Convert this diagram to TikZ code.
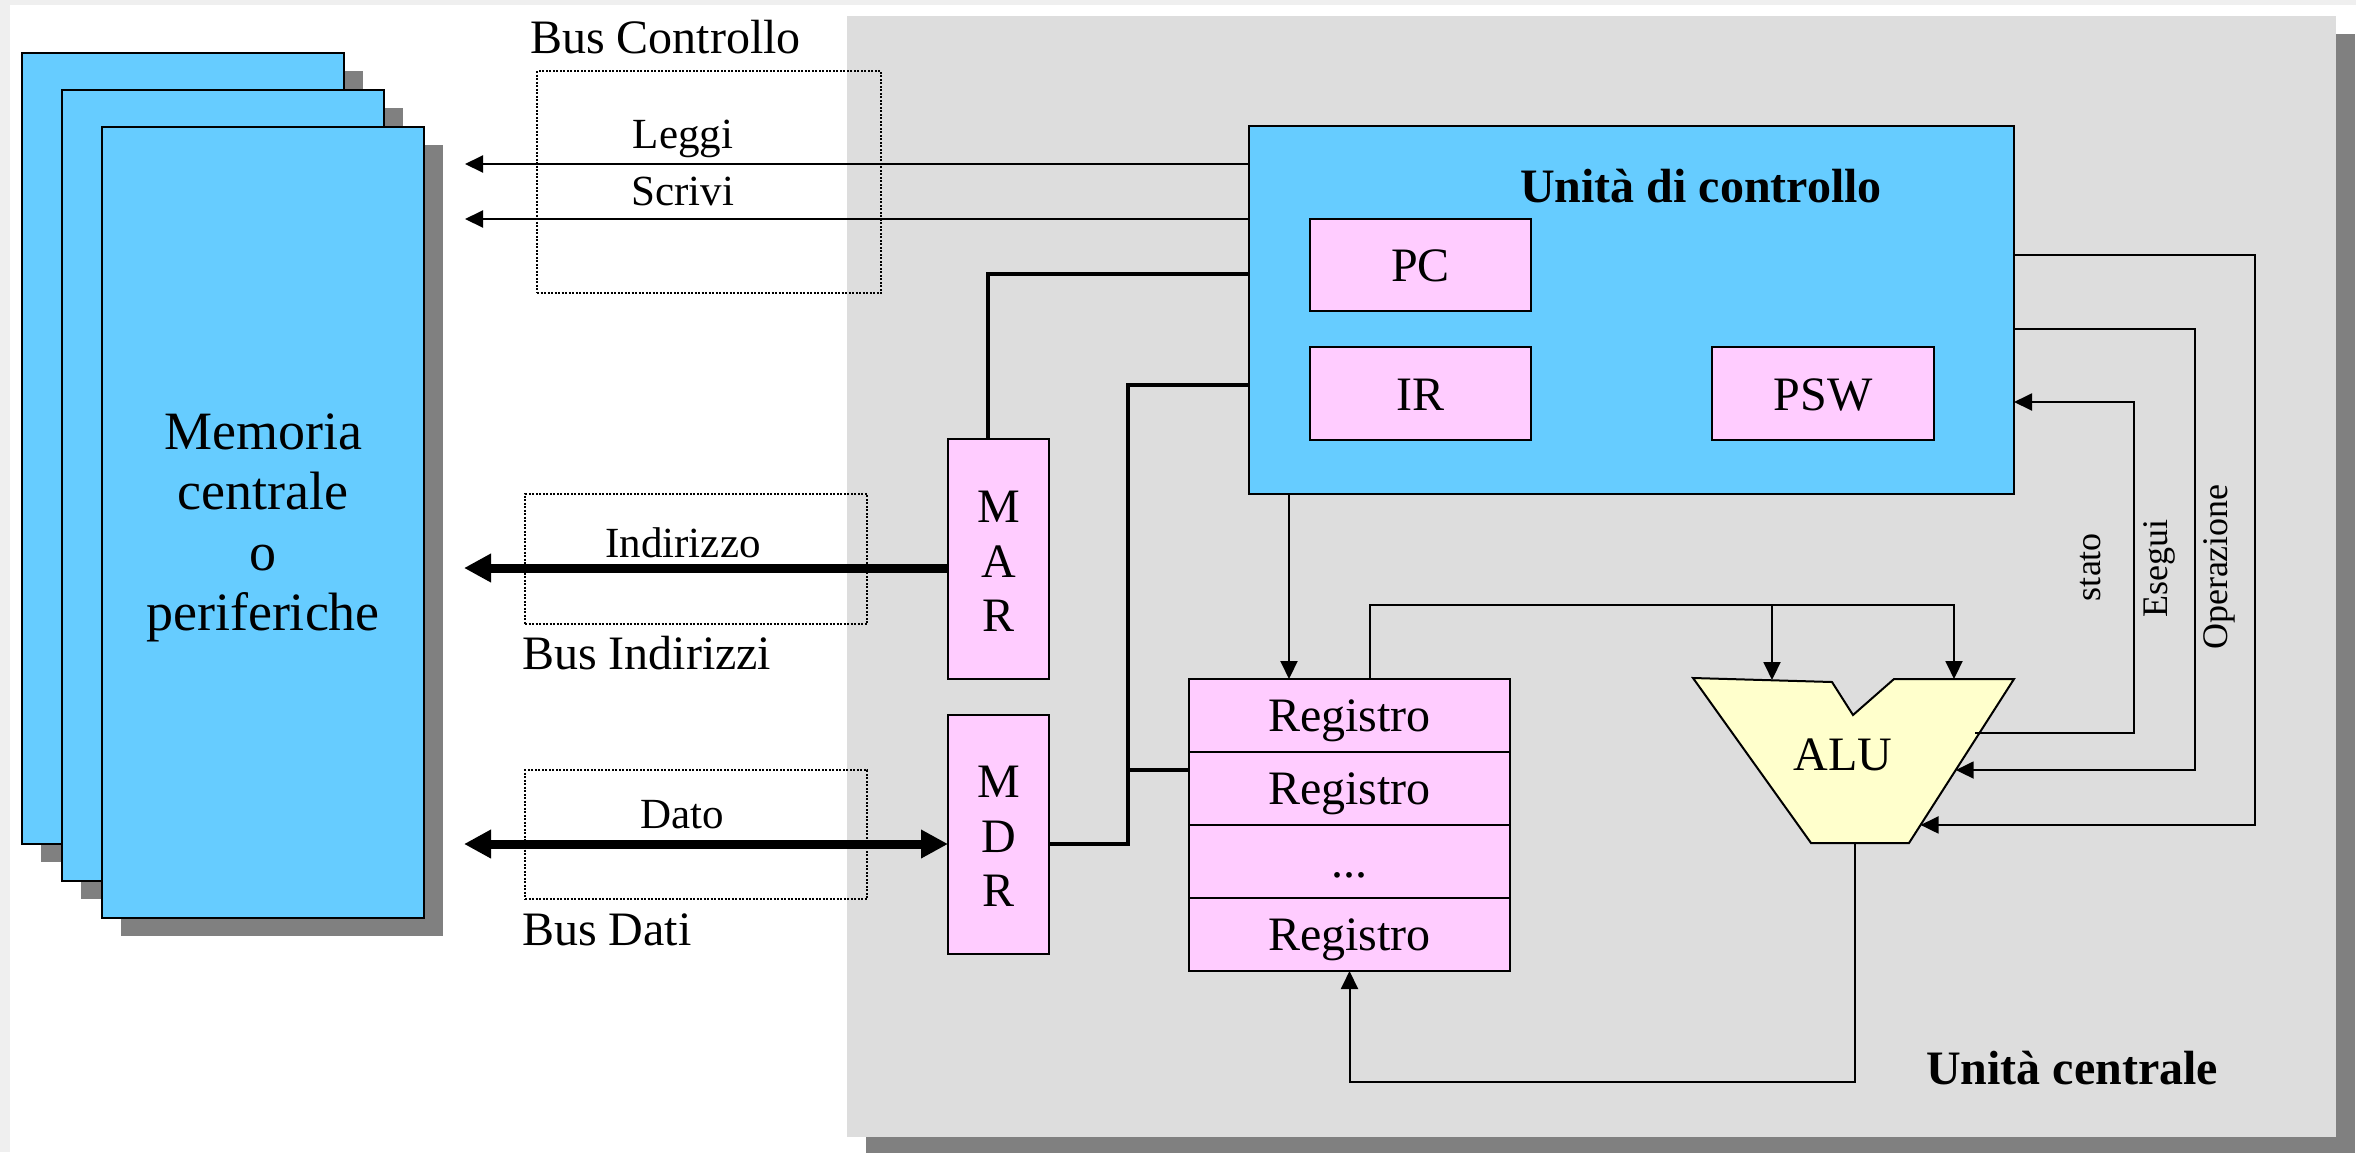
\documentclass[tikz,border=0pt]{standalone}
\usepackage{fontspec}
\setmainfont{Liberation Serif}
\usetikzlibrary{arrows.meta,shadows,calc}
\definecolor{panelgray}{HTML}{DDDDDD}
\definecolor{shadowgray}{HTML}{808080}
\definecolor{unitblue}{HTML}{66CCFF}
\definecolor{regpink}{HTML}{FFCCFF}
\definecolor{aluyellow}{HTML}{FFFFCC}
\definecolor{pagegray}{HTML}{EFEFEF}

\begin{document}
\begin{tikzpicture}[x=1pt,y=-1pt,
  every node/.style={inner sep=0pt, outer sep=0pt},
  txt/.style={font=\fontsize{48}{58}\selectfont, anchor=base},
  bustxt/.style={font=\fontsize{43}{50}\selectfont, anchor=base},
  sidetxt/.style={font=\fontsize{36}{42}\selectfont, anchor=base, rotate=90},
  hardshadow/.style={drop shadow={shadow xshift=19pt, shadow yshift=-18pt, fill=shadowgray, opacity=1}},
  membox/.style={draw=black, line width=2.5pt, fill=unitblue, hardshadow,
    minimum width=322pt, minimum height=791pt},
  panelbox/.style={fill=panelgray, hardshadow},
  unitbox/.style={draw=black, line width=2.5pt, fill=unitblue},
  regbox/.style={draw=black, line width=2pt, fill=regpink},
  busbox/.style={draw=black, line width=2pt, dash pattern=on 2pt off 1.5pt},
  wire/.style={draw=black, line width=2pt},
  sig/.style={wire, -{Triangle[length=18pt,width=17pt]}},
  buswire/.style={draw=black, line width=3.5pt},
  fatbus/.style={draw=black, line width=9pt},
  fatout/.style={fatbus, -{Triangle[length=27pt,width=27pt]}},
  fatboth/.style={fatbus, {Triangle[length=27pt,width=27pt]}-{Triangle[length=27pt,width=27pt]}}
]
\useasboundingbox (0,0) rectangle (2356,1152);
\fill[pagegray] (0,0) rectangle (2356,1152);
\fill[white] (10,5) rectangle (2356,1152);

% central unit panel
\node[panelbox, minimum width=1489pt, minimum height=1121pt] (panel) at (1591.5,576.5) {};
\node[txt, font=\fontsize{48}{58}\selectfont\bfseries] (cpuLabel) at (2072,1084) {Unità centrale};

% memory / peripherals stack
\node[membox] (mem1) at (183,448.5) {};
\node[membox] (mem2) at (223,485.5) {};
\node[membox] (mem3) at (263,522.5) {};
\node[font=\fontsize{54}{60.5}\selectfont, align=center] (memText) at (263,528)
  {Memoria\\centrale\\o\\periferiche};

% bus frames
\node[busbox, minimum width=344pt, minimum height=222pt] (busC) at (709,182) {};
\node[busbox, minimum width=342pt, minimum height=130pt] (busI) at (696,559) {};
\node[busbox, minimum width=342pt, minimum height=129pt] (busD) at (696,834.5) {};
\node[txt, anchor=base west] (busCLabel) at (530,53) {Bus Controllo};
\node[txt, anchor=base west] (busILabel) at (522,669) {Bus Indirizzi};
\node[txt, anchor=base west] (busDLabel) at (522,945) {Bus Dati};

% control unit
\node[unitbox, minimum width=765pt, minimum height=368pt] (cu) at (1631.5,310) {};
\node[txt, font=\fontsize{48}{58}\selectfont\bfseries] (cuLabel) at (1701,202) {Unità di controllo};
\node[regbox, minimum width=221pt, minimum height=92pt] (pc) at (1420.5,265) {};
\node[txt] at (1420.5,281) {PC};
\node[regbox, minimum width=221pt, minimum height=93pt] (ir) at (1420.5,393.5) {};
\node[txt] at (1420.5,410) {IR};
\node[regbox, minimum width=222pt, minimum height=93pt] (psw) at (1823,393.5) {};
\node[txt] at (1823,410) {PSW};

% MAR and MDR
\node[regbox, minimum width=101pt, minimum height=240pt] (mar) at (998.5,559) {};
\node[txt] at (998.5,522) {M};
\node[txt] at (998.5,577) {A};
\node[txt] at (998.5,631) {R};
\node[regbox, minimum width=101pt, minimum height=239pt] (mdr) at (998.5,834.5) {};
\node[txt] at (998.5,797) {M};
\node[txt] at (998.5,852) {D};
\node[txt] at (998.5,906) {R};

% register file
\node[regbox, minimum width=321pt, minimum height=73pt] (reg1) at (1349.5,715.5) {};
\node[regbox, minimum width=321pt, minimum height=73pt] (reg2) at (1349.5,788.5) {};
\node[regbox, minimum width=321pt, minimum height=73pt] (reg3) at (1349.5,861.5) {};
\node[regbox, minimum width=321pt, minimum height=73pt] (reg4) at (1349.5,934.5) {};
\node[txt] at (1349.5,731) {Registro};
\node[txt] at (1349.5,804) {Registro};
\node[txt] at (1349.5,877) {...};
\node[txt] at (1349.5,950) {Registro};

% ALU
\coordinate (aluTL) at (1693,678);
\coordinate (aluNL) at (1832,682);
\coordinate (aluNB) at (1853,715);
\coordinate (aluNR) at (1894,679);
\coordinate (aluTR) at (2014,679);
\coordinate (aluBR) at (1909,843);
\coordinate (aluBL) at (1811,843);
\filldraw[fill=aluyellow, draw=black, line width=2pt, line join=miter]
  (aluTL) -- (aluNL) -- (aluNB) -- (aluNR) -- (aluTR) -- (aluBR) -- (aluBL) -- cycle;
\node[txt] (alu) at (1843,770) {ALU};

% control bus: Leggi / Scrivi
\coordinate (leggiEnd) at (465,164);
\coordinate (scriviEnd) at (465,219);
\draw[sig] (cu.west |- leggiEnd) -- (leggiEnd);
\draw[sig] (cu.west |- scriviEnd) -- (scriviEnd);
\node[bustxt] (leggi) at (683,148) {Leggi};
\node[bustxt] (scrivi) at (683,205) {Scrivi};

% address and data buses
\coordinate (indEnd) at (464,568);
\coordinate (datoEnd) at (464,844);
\draw[fatout] (mar.west |- indEnd) -- (indEnd);
\draw[fatboth] (datoEnd) -- (mdr.west |- datoEnd);
\node[bustxt] (indLabel) at (683,557) {Indirizzo};
\node[bustxt] (datoLabel) at (682,828) {Dato};

% internal buses to the control unit
\coordinate (marBend) at (988,274);
\draw[buswire] (mar.north -| marBend) -- (marBend) -- (cu.west |- marBend);
\coordinate (mdrBus) at (1128,844);
\coordinate (mdrTop) at (1128,385);
\coordinate (regBranch) at (1128,770);
\draw[buswire] (mdr.east |- mdrBus) -- (mdrBus) -- (mdrTop) -- (cu.west |- mdrTop);
\draw[buswire] (regBranch) -- (reg2.west |- regBranch);

% control unit to registers
\coordinate (regIn) at (1289,600);
\draw[sig] (cu.south -| regIn) -- (reg1.north -| regIn);

% registers to ALU inputs
\coordinate (regOut) at (1370,605);
\coordinate (aluInA) at (1772,680);
\coordinate (aluInB) at (1954,679);
\draw[sig] (reg1.north -| regOut) -- (regOut) -| (aluInB);
\draw[sig] (aluInA |- regOut) -- (aluInA);

% ALU result back to registers
\coordinate (aluOut) at (1855,843);
\coordinate (aluLoop) at (1855,1082);
\draw[sig] (aluOut) -- (aluLoop) -| (reg4.south);

% control signals between control unit and ALU
\coordinate (aluSt) at ($(aluTR)!0.329!(aluBR)$);
\coordinate (aluEs) at ($(aluTR)!0.555!(aluBR)$);
\coordinate (aluOp) at ($(aluTR)!0.890!(aluBR)$);
\coordinate (stR) at (2134,402);
\coordinate (esR) at (2195,329);
\coordinate (opR) at (2255,255);
\draw[sig] ([xshift=-4pt]aluSt) -| (stR) -- (cu.east |- stR);
\draw[sig] (cu.east |- esR) -- (esR) |- (aluEs);
\draw[sig] (cu.east |- opR) -- (opR) |- (aluOp);
\node[sidetxt] (statoLabel) at (2100,567) {stato};
\node[sidetxt] (eseguiLabel) at (2167,568) {Esegui};
\node[sidetxt] (opLabel) at (2227,567) {Operazione};
\end{tikzpicture}
\end{document}
